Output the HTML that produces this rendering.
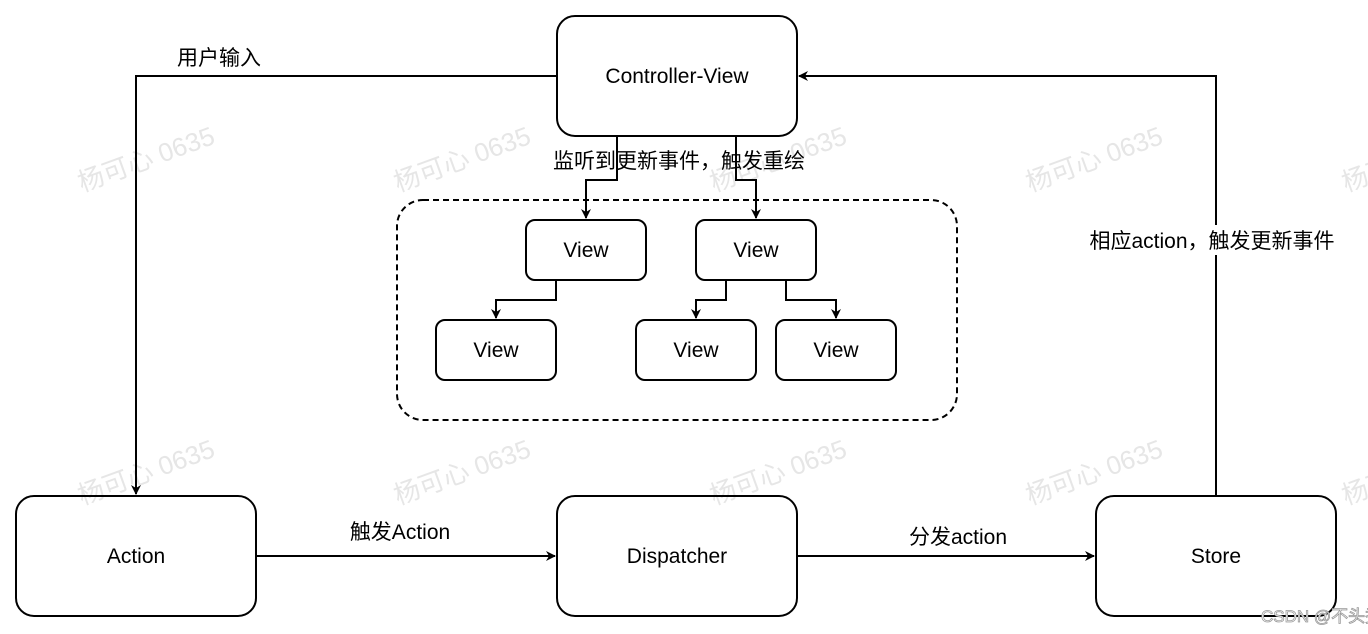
<!DOCTYPE html>
<html><head><meta charset="utf-8"><style>
html,body{margin:0;padding:0;background:#fff;}
svg{display:block}
text{font-family:"Liberation Sans","Noto Sans CJK SC",sans-serif;}
</style></head><body>
<svg width="1368" height="634" viewBox="0 0 1368 634" xmlns="http://www.w3.org/2000/svg">
<defs>
<marker id="a" markerWidth="10" markerHeight="10" refX="9" refY="5" orient="auto" markerUnits="userSpaceOnUse">
<path d="M0,0 L10,5 L0,10 L3,5 z" fill="#000"/></marker>
</defs>
<g fill="#e6e6e6" font-size="26">
<text transform="translate(82,192) rotate(-20)">杨可心 0635</text>
<text transform="translate(398,192) rotate(-20)">杨可心 0635</text>
<text transform="translate(714,192) rotate(-20)">杨可心 0635</text>
<text transform="translate(1030,192) rotate(-20)">杨可心 0635</text>
<text transform="translate(1346,192) rotate(-20)">杨可心 0635</text>
<text transform="translate(82,505) rotate(-20)">杨可心 0635</text>
<text transform="translate(398,505) rotate(-20)">杨可心 0635</text>
<text transform="translate(714,505) rotate(-20)">杨可心 0635</text>
<text transform="translate(1030,505) rotate(-20)">杨可心 0635</text>
<text transform="translate(1346,505) rotate(-20)">杨可心 0635</text>
</g>
<g fill="none" stroke="#000" stroke-width="2">
<rect x="397" y="200" width="560" height="220" rx="26" stroke-dasharray="6,4"/>
<rect x="557" y="16" width="240" height="120" rx="18"/>
<rect x="16" y="496" width="240" height="120" rx="18"/>
<rect x="557" y="496" width="240" height="120" rx="18"/>
<rect x="1096" y="496" width="240" height="120" rx="18"/>
<rect x="526" y="220" width="120" height="60" rx="9"/>
<rect x="696" y="220" width="120" height="60" rx="9"/>
<rect x="436" y="320" width="120" height="60" rx="9"/>
<rect x="636" y="320" width="120" height="60" rx="9"/>
<rect x="776" y="320" width="120" height="60" rx="9"/>
<path d="M557,76 H136 V494" marker-end="url(#a)"/>
<path d="M1216,496 V76 H799" marker-end="url(#a)"/>
<path d="M256,556 H555" marker-end="url(#a)"/>
<path d="M797,556 H1094" marker-end="url(#a)"/>
<path d="M617,136 V180 H586 V218" marker-end="url(#a)"/>
<path d="M736,136 V180 H756 V218" marker-end="url(#a)"/>
<path d="M556,280 V300 H496 V318" marker-end="url(#a)"/>
<path d="M726,280 V300 H696 V318" marker-end="url(#a)"/>
<path d="M786,280 V300 H836 V318" marker-end="url(#a)"/>
</g>
<rect x="1070" y="225" width="286" height="30" fill="#fff"/>
<g fill="#000" font-size="21" text-anchor="middle">
<text x="677" y="83">Controller-View</text>
<text x="136" y="563">Action</text>
<text x="677" y="563">Dispatcher</text>
<text x="1216" y="563">Store</text>
<text x="586" y="257">View</text>
<text x="756" y="257">View</text>
<text x="496" y="357">View</text>
<text x="696" y="357">View</text>
<text x="836" y="357">View</text>
<text x="219" y="65">用户输入</text>
<text x="679" y="168">监听到更新事件，触发重绘</text>
<text x="1212" y="248">相应action，触发更新事件</text>
<text x="400" y="539">触发Action</text>
<text x="958" y="544">分发action</text>
</g>
<text x="1261" y="622" font-size="17" fill="#fff" stroke="#999" stroke-width="0.8" font-family="Liberation Sans,Noto Sans CJK SC,sans-serif">CSDN @不头秃的码农</text>
</svg>
</body></html>
